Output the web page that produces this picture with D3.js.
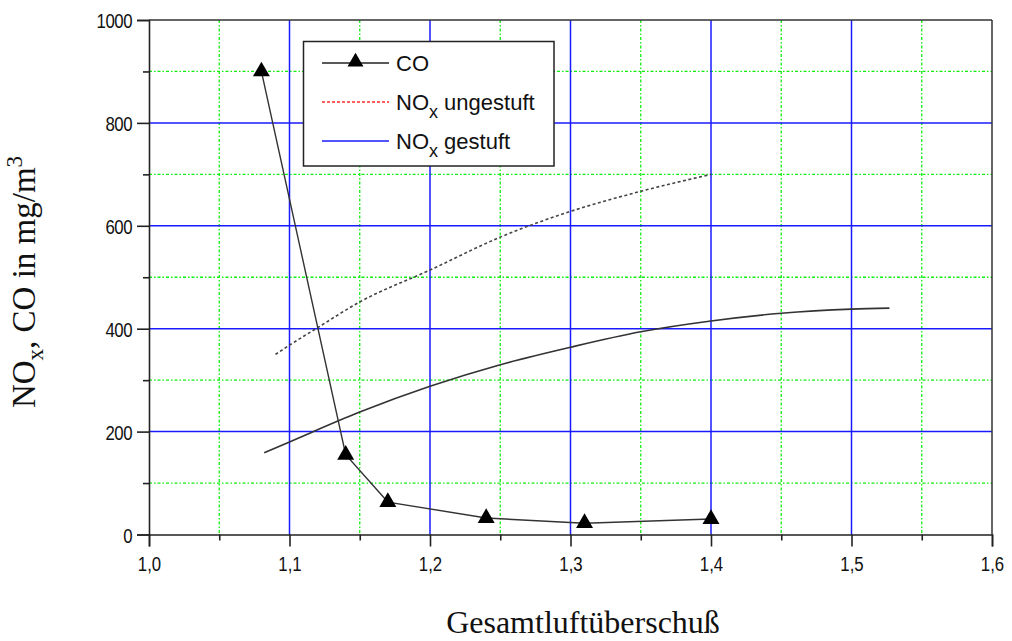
<!DOCTYPE html>
<html>
<head>
<meta charset="utf-8">
<script src="https://cdn.jsdelivr.net/npm/d3@7/dist/d3.min.js"></script>
<style>
  html, body { margin: 0; padding: 0; background: #fff; }
  svg { display: block; }
  .tick-label { font-family: "Liberation Sans", Arial, sans-serif; font-size: 21px; fill: #111; }
  .legend-text { font-family: "Liberation Sans", Arial, sans-serif; font-size: 22px; fill: #111; }
  .title { font-family: "Liberation Serif", "Times New Roman", serif; fill: #111; }
</style>
</head>
<body>
<svg id="chart" width="1012" height="641"></svg>
<script>
// Emissions vs. total excess air ratio
const coLambda = [1.08, 1.14, 1.17, 1.24, 1.31, 1.40];
const coValues = [900, 155, 63, 32, 22, 30];

const noxUngestuftLambda = [1.09, 1.10, 1.12, 1.15, 1.20, 1.25, 1.30, 1.35, 1.40];
const noxUngestuftValues = [350, 368, 402, 452, 514, 578, 628, 667, 700];

const noxGestuftLambda = [1.082, 1.10, 1.15, 1.20, 1.25, 1.30, 1.35, 1.40, 1.45, 1.50, 1.527];
const noxGestuftValues = [159, 180, 238, 288, 330, 364, 394, 415, 430, 438, 440];

const xMajorTicks = [1.0, 1.1, 1.2, 1.3, 1.4, 1.5, 1.6];
const xMinorTicks = [1.05, 1.15, 1.25, 1.35, 1.45, 1.55];
const yMajorTicks = [0, 200, 400, 600, 800, 1000];
const yMinorTicks = [100, 300, 500, 700, 900];

const svg = d3.select("#chart");
const plotLeft = 149, plotRight = 992, plotTop = 20, plotBottom = 534.5;

const x = d3.scaleLinear().domain([1.0, 1.6]).range([plotLeft, plotRight]);
const y = d3.scaleLinear().domain([0, 1000]).range([plotBottom, plotTop]);

const fmtX = d => d3.format(".1f")(d).replace(".", ",");

// grid: minor dash-dot green, major solid blue
const grid = svg.append("g");
const minorStyle = sel => sel.attr("stroke", "#10ee10").attr("stroke-width", 1.3)
  .attr("stroke-dasharray", "3,2,1.5,2");
grid.selectAll(".gxm").data(xMinorTicks).join("line")
  .attr("x1", d => x(d)).attr("x2", d => x(d)).attr("y1", plotTop).attr("y2", plotBottom)
  .call(minorStyle);
grid.selectAll(".gym").data(yMinorTicks).join("line")
  .attr("y1", d => y(d)).attr("y2", d => y(d)).attr("x1", plotLeft).attr("x2", plotRight)
  .call(minorStyle);
grid.selectAll(".gxM").data(xMajorTicks.slice(1, -1)).join("line")
  .attr("x1", d => x(d)).attr("x2", d => x(d)).attr("y1", plotTop).attr("y2", plotBottom)
  .attr("stroke", "#1a1aff").attr("stroke-width", 1.5);
grid.selectAll(".gyM").data(yMajorTicks.slice(1, -1)).join("line")
  .attr("y1", d => y(d)).attr("y2", d => y(d)).attr("x1", plotLeft).attr("x2", plotRight)
  .attr("stroke", "#1a1aff").attr("stroke-width", 1.5);

// frame
svg.append("line").attr("x1", plotLeft).attr("x2", plotRight).attr("y1", plotTop).attr("y2", plotTop)
  .attr("stroke", "#333").attr("stroke-width", 1.5);
svg.append("line").attr("x1", plotRight).attr("x2", plotRight).attr("y1", plotTop).attr("y2", plotBottom)
  .attr("stroke", "#333").attr("stroke-width", 1.5);

// axes
const xAxis = svg.append("g").attr("transform", `translate(0,${plotBottom})`);
xAxis.call(d3.axisBottom(x).tickValues(xMajorTicks).tickSize(12).tickPadding(6).tickFormat(fmtX));
const xAxisMinor = svg.append("g").attr("transform", `translate(0,${plotBottom})`);
xAxisMinor.call(d3.axisBottom(x).tickValues(xMinorTicks).tickSize(6).tickFormat(""));

const yAxis = svg.append("g").attr("transform", `translate(${plotLeft},0)`);
yAxis.call(d3.axisLeft(y).tickValues(yMajorTicks).tickSize(12).tickPadding(6).tickFormat(d3.format("d")));
const yAxisMinor = svg.append("g").attr("transform", `translate(${plotLeft},0)`);
yAxisMinor.call(d3.axisLeft(y).tickValues(yMinorTicks).tickSize(6).tickFormat(""));

[xAxis, xAxisMinor, yAxis, yAxisMinor].forEach(g => {
  g.selectAll("path").attr("stroke", "#222").attr("stroke-width", 1.6);
  g.selectAll("line").attr("stroke", "#222").attr("stroke-width", 1.6);
  g.selectAll("text").attr("class", "tick-label").attr("fill", "#111");
});
xAxisMinor.select("path").remove();
yAxisMinor.select("path").remove();

// condensed tick labels: squeeze horizontally around their anchor
xAxis.selectAll("text")
  .attr("y", 0).attr("dy", null)
  .attr("transform", "translate(0,36) scale(0.8,1)");
yAxis.selectAll("text")
  .attr("x", 0).attr("dy", "0.36em").attr("letter-spacing", "-0.6px")
  .attr("transform", "translate(-17,0) scale(0.8,1)");

// curves
const lineGen = (xs, ys, curve) => d3.line()
  .x((d, i) => x(xs[i])).y((d, i) => y(ys[i])).curve(curve);

svg.append("path")
  .attr("d", lineGen(noxUngestuftLambda, noxUngestuftValues, d3.curveMonotoneX)(noxUngestuftValues))
  .attr("fill", "none").attr("stroke", "#444").attr("stroke-width", 1.6)
  .attr("stroke-dasharray", "3,2.5");

svg.append("path")
  .attr("d", lineGen(noxGestuftLambda, noxGestuftValues, d3.curveMonotoneX)(noxGestuftValues))
  .attr("fill", "none").attr("stroke", "#333").attr("stroke-width", 1.6);

svg.append("path")
  .attr("d", lineGen(coLambda, coValues, d3.curveLinear)(coValues))
  .attr("fill", "none").attr("stroke", "#333").attr("stroke-width", 1.4);

const tri = d3.symbol().type(d3.symbolTriangle).size(125);
svg.selectAll(".co-marker").data(coValues).join("path")
  .attr("d", tri)
  .attr("transform", (d, i) => `translate(${x(coLambda[i])},${y(d)})`)
  .attr("fill", "#000");

// legend
const lg = svg.append("g");
lg.append("rect").attr("x", 303.5).attr("y", 41.5).attr("width", 250.5).attr("height", 124.5)
  .attr("fill", "#fff").attr("stroke", "#222").attr("stroke-width", 1.5);

const legendRows = [
  { y: 63, label: "CO", sub: null, rest: null, stroke: "#222", dash: null, marker: true },
  { y: 102, label: "NO", sub: "x", rest: " ungestuft", stroke: "#ff2a2a", dash: "3,2", marker: false },
  { y: 141, label: "NO", sub: "x", rest: " gestuft", stroke: "#1a1aff", dash: null, marker: false }
];
legendRows.forEach(r => {
  lg.append("line").attr("x1", 322).attr("x2", 389).attr("y1", r.y).attr("y2", r.y)
    .attr("stroke", r.stroke).attr("stroke-width", 1.4)
    .attr("stroke-dasharray", r.dash);
  if (r.marker) {
    lg.append("path").attr("d", d3.symbol().type(d3.symbolTriangle).size(110))
      .attr("transform", `translate(355.5,${r.y - 1})`).attr("fill", "#000");
  }
  const t = lg.append("text").attr("class", "legend-text").attr("x", 396).attr("y", r.y + 8);
  t.append("tspan").text(r.label);
  if (r.sub) {
    t.append("tspan").attr("dy", 8).attr("font-size", "18px").text(r.sub);
    t.append("tspan").attr("dy", -8).text(r.rest);
  }
});

// axis titles
svg.append("text").attr("class", "title")
  .attr("x", 583).attr("y", 633).attr("text-anchor", "middle")
  .attr("font-size", "32px").text("Gesamtluftüberschuß");

const yt = svg.append("text").attr("class", "title")
  .attr("transform", "translate(35,282) rotate(-90)")
  .attr("text-anchor", "middle").attr("font-size", "33px");
yt.append("tspan").text("NO");
yt.append("tspan").attr("dy", 8).attr("font-size", "23px").text("x");
yt.append("tspan").attr("dy", -8).text(", CO in mg/m");
yt.append("tspan").attr("dy", -13).attr("font-size", "23px").text("3");
</script>
</body>
</html>
